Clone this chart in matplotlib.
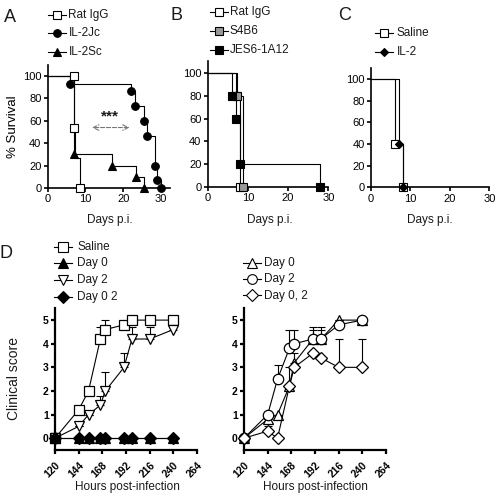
import numpy as np
import matplotlib
matplotlib.use("Agg")
import matplotlib.pyplot as plt
from matplotlib.lines import Line2D

plt.rcParams['font.family'] = ['Liberation Sans', 'DejaVu Sans']
plt.rcParams['text.color'] = '#1a1a1a'

# ---- Panel A: survival (days p.i. at each event, % survival after event)
a_ratigg_t = [7, 7, 7.1, 8.5]
a_ratigg_s = [100, 54, 27, 0]
a_il2jc_t = [6, 22, 23, 25.5, 26.3, 28.3, 29, 30]
a_il2jc_s = [93.3, 86.7, 73.3, 60, 46.7, 20, 6.7, 0]
a_il2sc_t = [7, 17, 23.5, 25.5]
a_il2sc_s = [30, 20, 10, 0]

# ---- Panel B
b_ratigg_t = [7, 8]
b_ratigg_s = [80, 0]
b_s4b6_t = [7.2, 8.8]
b_s4b6_s = [80, 0]
b_jes_t = [6, 7, 8, 28]
b_jes_s = [80, 60, 20, 0]

# ---- Panel C
c_saline_t = [6, 8]
c_saline_s = [40, 0]
c_il2_t = [7, 8]
c_il2_s = [40, 0]

# ---- Panel D: clinical score vs hours post-infection (mean, upper SEM)
hours = [120, 144, 154, 166, 171, 190, 198, 216, 240]
d_saline = [0, 1.2, 2.0, 4.2, 4.6, 4.8, 5.0, 5.0, 5.0]
d_saline_err = [0, 0, 0, 0.5, 0.4, 0, 0, 0, 0]
d_day0 = [0, 0, 0, 0, 0, 0, 0, 0, 0]
d_day2 = [0, 0.5, 1.0, 1.4, 2.0, 3.0, 4.2, 4.2, 4.6]
d_day2_err = [0, 0, 0, 0.4, 0.8, 0.6, 0.5, 0.5, 0.2]
d_day02 = [0, 0, 0, 0, 0, 0, 0, 0, 0]

e_day0 = [0, 0.8, 1.0, 2.2, 3.2, 4.2, 4.2, 5.0, 5.0]
e_day0_err = [0, 0, 0, 0.8, 0.4, 0.4, 0.4, 0, 0]
e_day2 = [0, 1.0, 2.5, 3.8, 4.0, 4.2, 4.2, 4.8, 5.0]
e_day2_err = [0, 0, 0.6, 0.8, 0.6, 0.5, 0.5, 0, 0]
e_day02 = [0, 0.3, 0.0, 2.2, 3.0, 3.6, 3.4, 3.0, 3.0]
e_day02_err = [0, 0.2, 0, 0, 0, 0, 0, 1.2, 1.2]

W, H = 500, 494
fig = plt.figure(figsize=(W / 100, H / 100), dpi=100)


def box(l, t, r, b):
    return [l / W, 1 - b / H, (r - l) / W, (b - t) / H]


def style(ax, lw=1.2, fs=8):
    for s in ("top", "right"):
        ax.spines[s].set_visible(False)
    for s in ("left", "bottom"):
        ax.spines[s].set_linewidth(lw)
    ax.tick_params(direction="out", length=3, width=lw, labelsize=fs, pad=1.5)


def km(ax, t, s, marker, fc, ms, skip=()):
    ax.step([0] + list(t), [100] + list(s), where="post", color="k", lw=0.8,
            clip_on=False, zorder=2)
    idx = [i for i in range(len(t)) if i not in skip]
    ax.plot([t[i] for i in idx], [s[i] for i in idx], ls="none", marker=marker,
            mfc=fc, mec="k", mew=0.8, ms=ms, clip_on=False, zorder=3)


def legend(rows, xm, xt, fs=8.5, half=9):
    for y, marker, fc, ms, label in rows:
        fy = 1 - y / H
        fig.add_artist(Line2D([(xm - half) / W, (xm + half) / W], [fy, fy],
                              color="k", lw=0.8, transform=fig.transFigure))
        fig.add_artist(Line2D([xm / W], [fy], marker=marker, mfc=fc, mec="k",
                              mew=0.8, ms=ms, transform=fig.transFigure))
        fig.text(xt / W, fy, label, fontsize=fs, va="center", ha="left")


# ---------------- A
axA = fig.add_axes(box(47.7, 64.8, 170, 188))
km(axA, a_ratigg_t, a_ratigg_s, "s", "white", 5.5, skip=(2,))
km(axA, a_il2sc_t, a_il2sc_s, "^", "k", 5.5)
km(axA, a_il2jc_t, a_il2jc_s, "o", "k", 5.5)
axA.set_xlim(0, 32.4)
axA.set_ylim(0, 110)
axA.set_xticks([0, 10, 20, 30])
axA.set_yticks(range(0, 101, 20))
style(axA)
axA.set_ylabel("% Survival", fontsize=9.5, labelpad=3)
axA.annotate("", xy=(11, 54), xytext=(22.4, 54),
             arrowprops=dict(arrowstyle="<->", ls="--", color="#777", lw=0.8))
axA.text(16.5, 58, "***", ha="center", va="bottom", fontsize=11, fontweight="bold")
legend([(15, "s", "white", 5.5, "Rat IgG"), (33, "o", "k", 5.5, "IL-2Jc"),
        (52, "^", "k", 5.5, "IL-2Sc")], 57, 68.5)

# ---------------- B
axB = fig.add_axes(box(207.7, 61, 328.3, 187))
km(axB, b_ratigg_t, b_ratigg_s, "s", "white", 6)
km(axB, b_s4b6_t, b_s4b6_s, "s", "#999999", 6)
km(axB, b_jes_t, b_jes_s, "s", "k", 6)
axB.set_xlim(0, 30)
axB.set_ylim(0, 110.5)
axB.set_xticks([0, 10, 20, 30])
axB.set_yticks(range(0, 101, 20))
style(axB)
legend([(12, "s", "white", 6, "Rat IgG"), (31, "s", "#999999", 6, "S4B6"),
        (50, "s", "k", 6, "JES6-1A12")], 219, 229.5)

# ---------------- C
axC = fig.add_axes(box(371, 68.3, 489.3, 187.3))
km(axC, c_saline_t, c_saline_s, "s", "white", 5.5)
km(axC, c_il2_t, c_il2_s, "D", "k", 4.5)
axC.set_xlim(0, 30)
axC.set_ylim(0, 110)
axC.set_xticks([0, 10, 20, 30])
axC.set_yticks(range(0, 101, 20))
style(axC)
legend([(33, "s", "white", 5.5, "Saline"), (52, "D", "k", 4.5, "IL-2")], 384, 396.5)

for x in (110, 270, 430):
    fig.text(x / W, 1 - 220 / H, "Days p.i.", fontsize=8.5, ha="center", va="center")

# ---------------- D


def series(ax, y, err, marker, fc, ms):
    if err is not None:
        ax.errorbar(hours, y, yerr=[np.zeros(len(err)), err], fmt="none",
                    ecolor="k", elinewidth=0.8, capsize=3, capthick=0.8,
                    clip_on=False, zorder=1)
    ax.plot(hours, y, color="k", lw=0.8, marker=marker, mfc=fc, mec="k",
            mew=0.9, ms=ms, clip_on=False, zorder=3)


axD1 = fig.add_axes(box(55, 308.3, 197, 450))
series(axD1, d_saline, d_saline_err, "s", "white", 7)
series(axD1, d_day2, d_day2_err, "v", "white", 7.5)
series(axD1, d_day0, None, "^", "k", 7)
series(axD1, d_day02, None, "D", "k", 6)

axD2 = fig.add_axes(box(244, 308.3, 386, 450))
series(axD2, e_day0, e_day0_err, "^", "white", 7)
series(axD2, e_day2, e_day2_err, "o", "white", 7.5)
series(axD2, e_day02, e_day02_err, "D", "white", 6)

for ax in (axD1, axD2):
    ax.set_xlim(120, 264)
    ax.set_ylim(-0.5, 5.5)
    ax.set_xticks(range(120, 265, 24))
    ax.set_yticks(range(0, 6))
    style(ax, lw=1.6, fs=7.5)
    ax.tick_params(axis="x", pad=4.5)
    for lab in ax.get_yticklabels():
        lab.set_fontweight("bold")
    for lab in ax.get_xticklabels():
        lab.set_rotation(45)
        lab.set_ha("right")
        lab.set_rotation_mode("anchor")
        lab.set_va("top")
        lab.set_fontweight("bold")

fig.text(14 / W, 1 - 378 / H, "Clinical score", rotation=90, fontsize=10,
         ha="center", va="center")
for x in (127, 315):
    fig.text(x / W, 1 - 493 / H, "Hours post-infection", fontsize=8.5,
             ha="center", va="bottom")

legend([(247, "s", "white", 7, "Saline"), (263, "^", "k", 7, "Day 0"),
        (280, "v", "white", 7.5, "Day 2"), (296.5, "D", "k", 6, "Day 0 2")], 63, 77)
legend([(262.5, "^", "white", 7, "Day 0"), (279, "o", "white", 7, "Day 2"),
        (295.5, "D", "white", 6, "Day 0, 2")], 252, 264.5)

# panel letters
for x, y, s in ((10, 17, "A"), (177, 15, "B"), (345, 15, "C"), (6, 254, "D")):
    fig.text(x / W, 1 - y / H, s, fontsize=13, ha="center", va="center")

fig.savefig("out.png", dpi=100)
